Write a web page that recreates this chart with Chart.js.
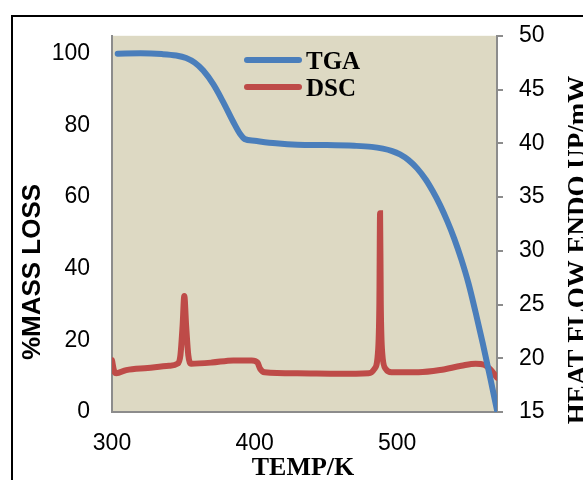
<!DOCTYPE html>
<html lang="en">
<head>
    <meta charset="UTF-8">
    <title>TGA / DSC</title>
    <script src="https://cdn.jsdelivr.net/npm/chart.js"></script>
    <style>
        body { margin: 0; background: #ffffff; }
        #wrap { width: 583px; height: 480px; }
    </style>
</head>
<body>
    <div id="wrap">
        <canvas id="thermoChart" width="583" height="480"></canvas>
    </div>

    <script>
        // temperature (K) vs % mass for the TGA trace
        const tgaTemp = [304, 320, 335, 345, 352, 358, 364, 371, 378, 385, 390, 393, 400, 415, 430, 450, 470, 482, 490, 496, 502, 508, 514, 520, 525, 530, 535, 540, 545, 550, 555, 560, 565, 570];
        const tgaMass = [100, 100.1, 99.9, 99.5, 98.8, 97.5, 95.3, 91.5, 86.5, 81, 77.5, 76.2, 75.7, 75, 74.6, 74.5, 74.3, 74, 73.5, 72.9, 71.9, 70.3, 68.0, 64.9, 61.6, 57.8, 53.4, 48.4, 42.6, 35.9, 27.8, 19.2, 10.0, 0.5];

        // temperature (K) vs heat flow (mW) for the DSC trace
        const dscTemp = [300, 301.5, 303, 310, 325, 340, 346, 348, 349.5, 350.7, 352, 353.5, 355.5, 370, 385, 398, 402, 404, 407, 430, 460, 480, 484, 486.5, 487.5, 488, 488.5, 489.5, 492, 496, 515, 530, 545, 555, 561, 565, 570];
        const dscHeat = [19.8, 18.8, 18.6, 18.9, 19.1, 19.3, 19.5, 20.3, 23, 25.8, 23, 20.3, 19.5, 19.6, 19.8, 19.8, 19.6, 19.0, 18.7, 18.6, 18.55, 18.6, 19.0, 20.5, 25, 33.5, 25, 20.5, 19.0, 18.7, 18.7, 18.9, 19.3, 19.5, 19.4, 19.0, 18.2];

        const tempTicks = [300, 400, 500];
        const massTicks = [0, 20, 40, 60, 80, 100];
        const heatTicks = [15, 20, 25, 30, 35, 40, 45, 50];

        const toPoints = (xs, ys) => xs.map((x, i) => ({ x: x, y: ys[i] }));
        const setTicks = list => scale => { scale.ticks = list.map(v => ({ value: v })); };

        const SANS = "'Liberation Sans', Arial, sans-serif";
        const SERIF = "'Liberation Serif', 'Times New Roman', serif";

        // white page, frame lines and beige plot area
        const backdrop = {
            id: 'backdrop',
            beforeDraw(chart) {
                const { ctx, chartArea: a } = chart;
                ctx.save();
                ctx.fillStyle = '#ffffff';
                ctx.fillRect(0, 0, chart.width, chart.height);
                ctx.fillStyle = '#ddd9c3';
                ctx.fillRect(a.left, a.top, a.right - a.left, a.bottom - a.top);
                ctx.strokeStyle = '#000000';
                ctx.lineWidth = 2;
                ctx.beginPath();
                ctx.moveTo(12, chart.height);
                ctx.lineTo(12, 16);
                ctx.lineTo(chart.width, 16);
                ctx.stroke();
                ctx.restore();
            }
        };

        // axis titles and the in-plot legend
        const labels = {
            id: 'labels',
            afterDraw(chart) {
                const ctx = chart.ctx;
                ctx.save();
                ctx.fillStyle = '#000000';

                ctx.save();
                ctx.translate(33, 272);
                ctx.rotate(-Math.PI / 2);
                ctx.font = 'bold 26px ' + SANS;
                ctx.textAlign = 'center';
                ctx.textBaseline = 'middle';
                ctx.fillText('%MASS LOSS', 0, 0);
                ctx.restore();

                ctx.save();
                ctx.translate(586, 250);
                ctx.rotate(-Math.PI / 2);
                ctx.font = 'bold 27px ' + SERIF;
                ctx.textAlign = 'center';
                ctx.textBaseline = 'alphabetic';
                ctx.fillText('HEAT FLOW ENDO UP/mW', 0, 0);
                ctx.restore();

                ctx.font = 'bold 26px ' + SERIF;
                ctx.textAlign = 'center';
                ctx.textBaseline = 'alphabetic';
                ctx.fillText('TEMP/K', 303, 475);

                ctx.font = 'bold 25px ' + SERIF;
                ctx.textAlign = 'left';
                ctx.textBaseline = 'alphabetic';
                ctx.lineCap = 'round';
                ctx.lineWidth = 6;
                chart.data.datasets.forEach((ds, i) => {
                    const y = 60 + i * 27;
                    ctx.strokeStyle = ds.borderColor;
                    ctx.beginPath();
                    ctx.moveTo(247, y);
                    ctx.lineTo(299, y);
                    ctx.stroke();
                    ctx.fillText(ds.label, 306, y + 9);
                });
                ctx.restore();
            }
        };

        new Chart(document.getElementById('thermoChart'), {
            type: 'line',
            data: {
                datasets: [{
                    label: 'TGA',
                    data: toPoints(tgaTemp, tgaMass),
                    yAxisID: 'mass',
                    borderColor: '#4a7ebb',
                    borderWidth: 6,
                    cubicInterpolationMode: 'monotone',
                    pointRadius: 0,
                    borderCapStyle: 'round'
                }, {
                    label: 'DSC',
                    data: toPoints(dscTemp, dscHeat),
                    yAxisID: 'heat',
                    borderColor: '#be4b48',
                    borderWidth: 6,
                    cubicInterpolationMode: 'monotone',
                    pointRadius: 0,
                    borderCapStyle: 'round'
                }]
            },
            options: {
                responsive: false,
                animation: false,
                layout: { padding: { top: 33, left: 0, right: 0, bottom: 0 } },
                plugins: { legend: { display: false }, tooltip: { enabled: false } },
                scales: {
                    x: {
                        type: 'linear',
                        min: 300,
                        max: 570,
                        afterBuildTicks: setTicks(tempTicks),
                        afterFit: s => { s.height = 68; },
                        grid: { display: false, drawTicks: false },
                        border: { color: '#8c8c8c', width: 2 },
                        ticks: { color: '#000', padding: 18, font: { family: SANS, size: 23 } }
                    },
                    mass: {
                        position: 'left',
                        min: 0,
                        max: 105,
                        afterBuildTicks: setTicks(massTicks),
                        afterFit: s => { s.width = 112; },
                        grid: { display: false, drawTicks: false },
                        border: { color: '#8c8c8c', width: 2 },
                        ticks: { color: '#000', padding: 22, font: { family: SANS, size: 23 } }
                    },
                    heat: {
                        position: 'right',
                        min: 15,
                        max: 50,
                        afterBuildTicks: setTicks(heatTicks),
                        afterFit: s => { s.width = 86; },
                        grid: { display: true, drawOnChartArea: false, drawTicks: true, tickLength: 6, color: '#8c8c8c', lineWidth: 2 },
                        border: { color: '#8c8c8c', width: 2 },
                        ticks: { color: '#000', padding: 16, font: { family: SANS, size: 23 } }
                    }
                }
            },
            plugins: [backdrop, labels]
        });
    </script>
</body>
</html>
